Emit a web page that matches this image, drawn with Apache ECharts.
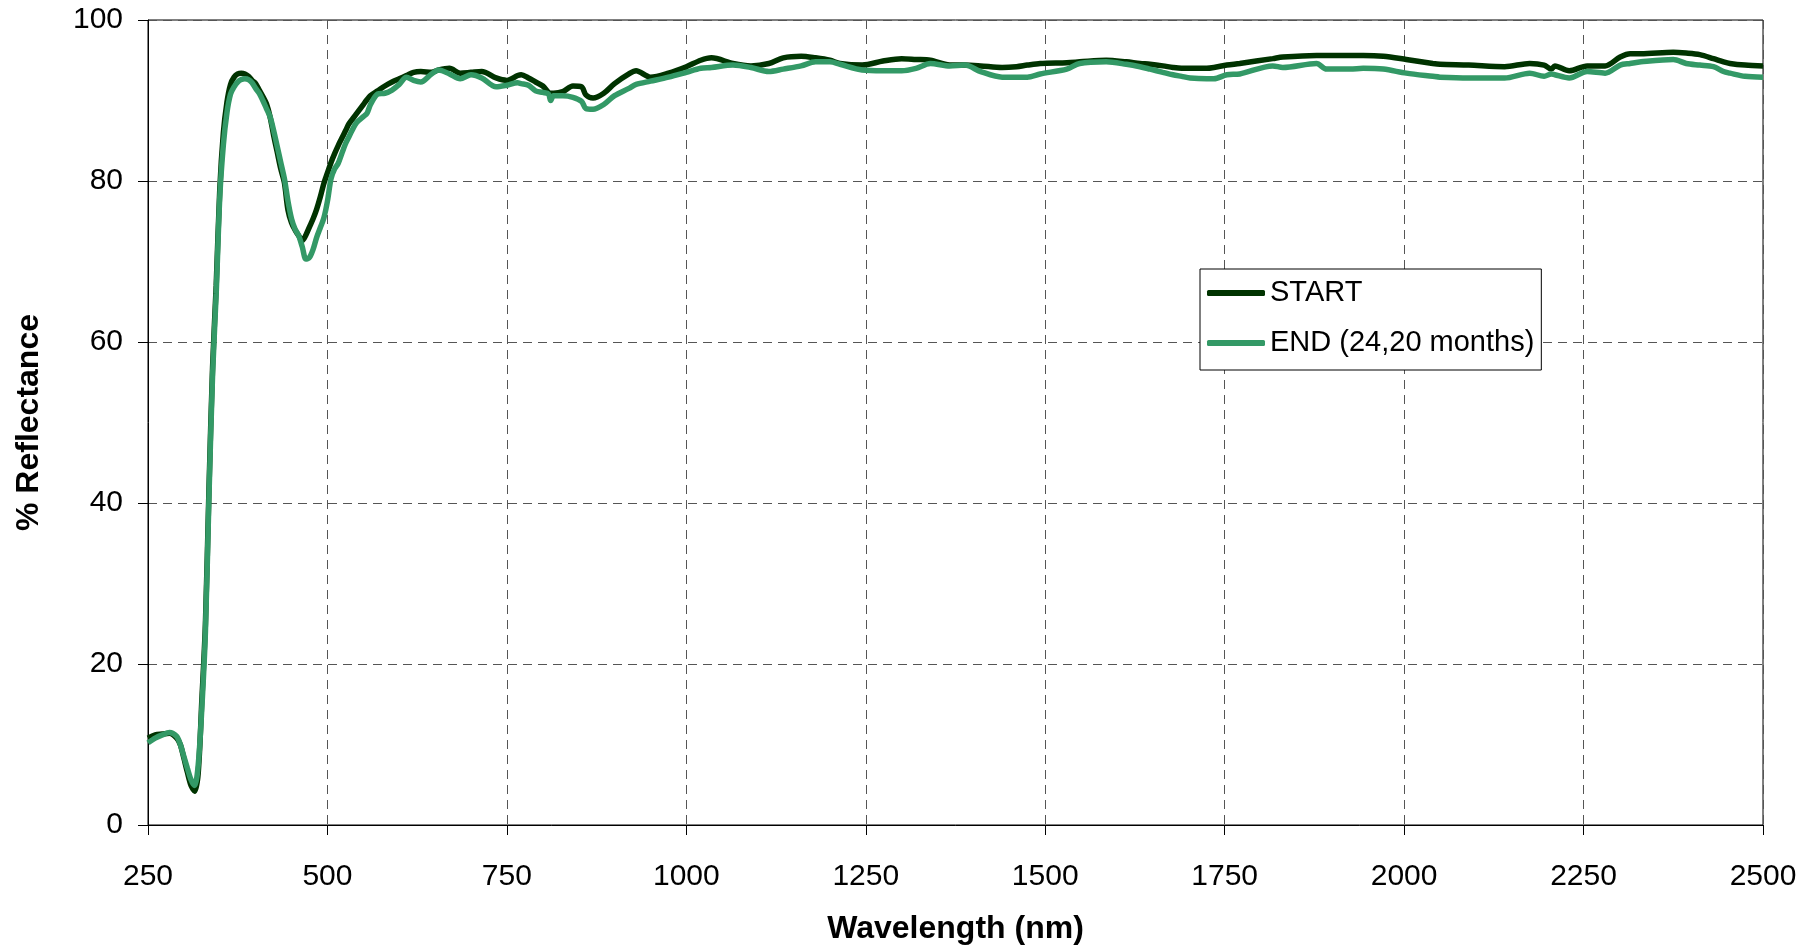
<!DOCTYPE html>
<html>
<head>
<meta charset="utf-8">
<script src="https://cdn.jsdelivr.net/npm/echarts@6/dist/echarts.min.js"></script>
<style>
html,body{margin:0;padding:0;background:#fff;}
#chart{width:1815px;height:950px;}
</style>
</head>
<body>
<div id="chart"></div>
<script>
// Wavelength (nm)
const wavelength = [250,260,270,280,290,295,300,305,310,315,320,325,330,335,340,345,350,355,360,365,370,375,380,385,390,395,400,405,410,415,420,425,430,435,440,445,450,455,460,465,470,475,480,485,490,495,500,505,510,515,520,525,530,540,550,555,560,570,580,590,600,610,620,630,645,655,670,685,700,715,735,750,765,770,780,790,800,808,811,815,828,842,854,860,870,885,900,920,930,950,975,1000,1020,1035,1065,1090,1115,1135,1160,1180,1200,1214,1245,1274,1300,1320,1340,1367,1388,1410,1440,1460,1475,1493,1530,1548,1585,1613,1632,1646,1664,1678,1690,1702,1725,1735,1753,1771,1817,1831,1878,1892,1925,1943,1971,2003,2040,2050,2090,2140,2175,2195,2205,2210,2230,2255,2280,2301,2315,2330,2375,2393,2412,2431,2445,2454,2475,2500];
// % Reflectance, START
const startValues = [10.8,11.2,11.3,11.4,10.8,10.0,8.3,6.5,4.9,4.2,6.5,15.5,25,42,57,67,79,86,89.8,92,92.9,93.3,93.4,93.3,93.0,92.5,92.1,91.3,90.5,89.6,88.0,85.7,83.6,81.5,79.8,76.4,74.8,73.9,73.2,72.6,73.3,74.3,75.3,76.5,78.0,79.7,81.0,82.3,83.4,84.4,85.3,86.2,87.1,88.3,89.5,90.1,90.6,91.2,91.8,92.3,92.7,93.1,93.5,93.6,93.5,93.8,94.0,93.4,93.5,93.6,92.8,92.5,93.1,93.2,92.8,92.3,91.8,91.0,90.9,90.9,91.1,91.8,91.7,90.7,90.3,90.9,92.1,93.3,93.7,92.9,93.4,94.2,95.0,95.3,94.6,94.3,94.6,95.3,95.5,95.3,95.0,94.6,94.4,94.9,95.2,95.1,95.0,94.4,94.4,94.3,94.1,94.2,94.4,94.6,94.7,94.8,95.0,94.8,94.6,94.5,94.3,94.1,94.0,94.0,94.0,94.1,94.4,94.6,95.2,95.4,95.6,95.6,95.6,95.6,95.5,95.1,94.6,94.5,94.4,94.2,94.6,94.4,93.9,94.3,93.7,94.3,94.3,95.4,95.8,95.8,96.0,95.9,95.7,95.2,94.8,94.6,94.4,94.3];
// % Reflectance, END (24,20 months)
const endValues = [10.2,10.8,11.2,11.5,11.0,10.0,8.5,7.0,5.6,4.9,7.5,14.5,24,41,56,66,78,84.5,88.5,90.8,91.7,92.3,92.6,92.7,92.6,92.2,91.5,90.9,90.0,89.0,88.0,86.3,84.3,82.3,80.3,77.5,75.3,74.0,73.2,71.8,70.3,70.5,71.5,73.0,74.2,75.4,77.5,80.3,81.5,82.2,83.4,84.6,85.5,87.2,88.0,88.4,89.5,90.8,90.9,91.3,92.0,92.9,92.5,92.3,93.3,93.8,93.3,92.7,93.2,92.8,91.7,91.9,92.2,92.1,91.9,91.2,91.0,90.8,90.0,90.6,90.6,90.4,89.9,89.0,88.9,89.5,90.6,91.5,92.0,92.4,92.9,93.5,94.0,94.1,94.4,94.1,93.6,93.9,94.3,94.8,94.8,94.5,93.8,93.7,93.7,94.0,94.6,94.3,94.4,93.6,92.9,92.9,92.9,93.3,93.9,94.6,94.8,94.5,94.2,93.9,93.5,93.2,93.0,92.8,92.7,92.7,93.2,93.3,94.3,94.1,94.6,93.9,93.9,94.0,93.9,93.4,93.0,92.9,92.8,92.8,93.4,93.0,93.3,93.2,92.8,93.6,93.4,94.4,94.6,94.8,95.1,94.6,94.4,94.2,93.6,93.4,93.0,92.9];
const seriesNames = ['START', 'END (24,20 months)'];
const xTicks = {min: 250, max: 2500, step: 250};
const yTicks = {min: 0, max: 100, step: 20};

const FONT = '"Liberation Sans", Arial, sans-serif';
const pair = (vals) => wavelength.map((w, i) => [w, vals[i]]);

const chart = echarts.init(document.getElementById('chart'), null, {renderer: 'canvas'});
chart.setOption({
  animation: false,
  backgroundColor: '#ffffff',
  textStyle: {fontFamily: FONT, color: '#000'},
  grid: {left: 148, right: 52, top: 20, bottom: 121, show: true, borderColor: '#000', borderWidth: 1, backgroundColor: '#fff'},
  legend: {
    left: 1200, top: 269,
    orient: 'vertical',
    backgroundColor: '#fff',
    borderColor: '#000', borderWidth: 1,
    padding: [6, 7, 9, 7],
    itemWidth: 58, itemHeight: 6, itemGap: 14,
    icon: 'roundRect',
    textStyle: {fontFamily: FONT, fontSize: 29, color: '#000', lineHeight: 36},
    data: seriesNames
  },
  xAxis: {
    type: 'value', min: xTicks.min, max: xTicks.max, interval: xTicks.step,
    name: 'Wavelength (nm)', nameLocation: 'middle', nameGap: 88,
    nameTextStyle: {fontFamily: FONT, fontSize: 32, fontWeight: 'bold', color: '#000'},
    axisLine: {show: true, onZero: false, lineStyle: {color: '#000', width: 1}},
    axisTick: {show: true, inside: false, length: 10, lineStyle: {color: '#000'}},
    axisLabel: {fontFamily: FONT, fontSize: 30, color: '#000', margin: 37, formatter: (v) => String(v)},
    splitLine: {show: true, lineStyle: {color: '#555', type: [9, 6], width: 1}}
  },
  yAxis: {
    type: 'value', min: yTicks.min, max: yTicks.max, interval: yTicks.step,
    name: '% Reflectance', nameLocation: 'middle', nameGap: 103,
    nameTextStyle: {fontFamily: FONT, fontSize: 32, fontWeight: 'bold', color: '#000'},
    axisLine: {show: true, lineStyle: {color: '#000', width: 1}},
    axisTick: {show: true, inside: false, length: 10, lineStyle: {color: '#000'}},
    axisLabel: {fontFamily: FONT, fontSize: 30, color: '#000', margin: 25, formatter: (v) => String(v)},
    splitLine: {show: true, lineStyle: {color: '#555', type: [9, 6], width: 1}}
  },
  series: [
    {name: seriesNames[0], type: 'line', data: pair(startValues), symbol: 'none', smooth: 0.3,
     color: '#003300', lineStyle: {color: '#003300', width: 5.5}, z: 2},
    {name: seriesNames[1], type: 'line', data: pair(endValues), symbol: 'none', smooth: 0.3,
     color: '#339966', lineStyle: {color: '#339966', width: 5.5}, z: 3}
  ]
});
</script>
</body>
</html>
